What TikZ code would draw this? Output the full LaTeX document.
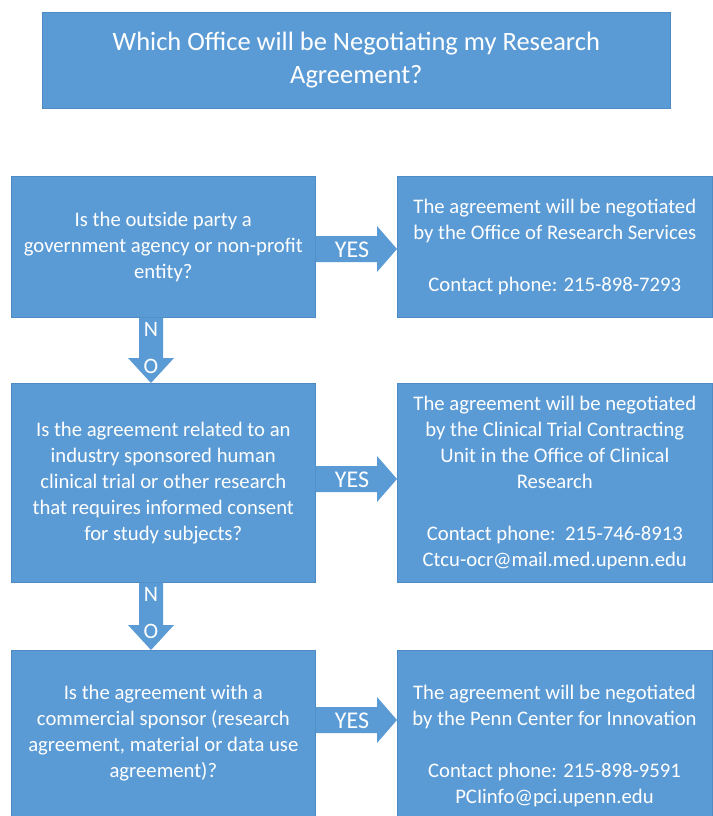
\documentclass[tikz,border=0pt]{standalone}
\usepackage{fontspec}
\setmainfont{Carlito}
\usetikzlibrary{calc}
\definecolor{boxblue}{RGB}{91,155,213}
\definecolor{edgeblue}{RGB}{78,138,196}
\begin{document}
\begin{tikzpicture}[x=1pt,y=-1pt,
  box/.style={fill=boxblue, draw=edgeblue, line width=0.6pt, text=white, align=center,
    anchor=north west, inner sep=0pt, font=\fontsize{20.7}{26}\selectfont},
  arr/.style={fill=boxblue},
  lbl/.style={text=white, font=\fontsize{24}{24}\selectfont, inner sep=0pt},
  txt/.style={text=white, align=center, inner sep=0pt, font=\fontsize{20.7}{26}\selectfont}]
\useasboundingbox (0,0) rectangle (712,816);
\fill[white] (0,0) rectangle (712,816);

\node[box, minimum width=628, minimum height=96, font=\fontsize{26.5}{33}\selectfont] (title) at (42,12)
  {Which Office will be Negotiating my Research\\Agreement?};

\node[box, minimum width=304, minimum height=141] (q1) at (11,176)
  {Is the outside party a\\government agency or non-profit\\entity?};
\node[box, minimum width=315, minimum height=141] (a1) at (397,176)
  {The agreement will be negotiated\\by the Office of Research Services\\[26pt]Contact phone: 215-898-7293};

\node[box, minimum width=304, minimum height=199] (q2) at (11,383)
  {Is the agreement related to an\\industry sponsored human\\clinical trial or other research\\that requires informed consent\\for study subjects?};
\node[box, minimum width=315, minimum height=199] (a2) at (397,383)
  {The agreement will be negotiated\\by the Clinical Trial Contracting\\Unit in the Office of Clinical\\Research\\[26pt]Contact phone:\ \ 215-746-8913\\Ctcu-ocr@mail.med.upenn.edu};

\node[box, minimum width=304, minimum height=166] (q3) at (11,650)
  {Is the agreement with a\\commercial sponsor (research\\agreement, material or data use\\agreement)?};
\node[box, minimum width=315, minimum height=166] (a3) at (397,650) {};
\node[txt] (a3t) at (554.5,746)
  {The agreement will be negotiated\\by the Penn Center for Innovation\\[26pt]Contact phone: 215-898-9591\\PCIinfo@pci.upenn.edu};

% YES arrows
\newcommand\yesarrow[3]{%
  \fill[arr] ($(#1.east |- 0,#3)+(0,-13)$) -- ($(#2.west |- 0,#3)+(-20,-13)$) -- ++(0,-10)
    -- (#2.west |- 0,#3) -- ($(#2.west |- 0,#3)+(-20,23)$) -- ++(0,-10)
    -- ($(#1.east |- 0,#3)+(0,13)$) -- cycle;}
\yesarrow{q1}{a1}{249}
\yesarrow{q2}{a2}{479}
\yesarrow{q3}{a3}{720}
\node[lbl] (yes1) at (352,250) {YES};
\node[lbl] (yes2) at (352,480) {YES};
\node[lbl] (yes3) at (352,721) {YES};

% NO arrows
\newcommand\noarrow[3]{%
  \fill[arr] (#1.south -| 139,0) -- (139,#3) -- (128,#3) -- (#2.north -| 151,0)
    -- (174,#3) -- (163,#3) -- (#1.south -| 163,0) -- cycle;}
\noarrow{q1}{q2}{358}
\noarrow{q2}{q3}{625}
\node[lbl, font=\fontsize{22}{22}\selectfont] (n1) at (151,329) {N};
\node[lbl, font=\fontsize{22}{22}\selectfont] (o1) at (151,366) {O};
\node[lbl, font=\fontsize{22}{22}\selectfont] (n2) at (151,594) {N};
\node[lbl, font=\fontsize{22}{22}\selectfont] (o2) at (151,631) {O};
\end{tikzpicture}
\end{document}
